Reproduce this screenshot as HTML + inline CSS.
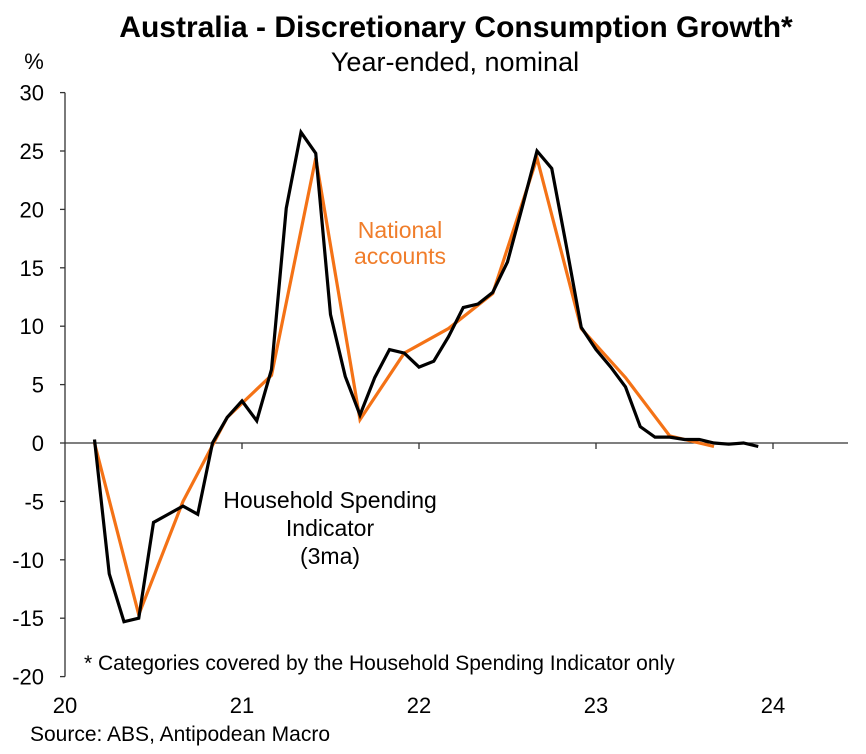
<!DOCTYPE html>
<html><head><meta charset="utf-8"><style>
body{margin:0;background:#fff;}
svg text{font-family:"Liberation Sans",Arial,sans-serif;}
</style></head><body>
<svg width="866" height="749" viewBox="0 0 866 749">
<text x="456" y="37" text-anchor="middle" font-size="30" font-weight="bold" fill="#000">Australia - Discretionary Consumption Growth*</text>
<text x="455" y="71" text-anchor="middle" font-size="27" fill="#000">Year-ended, nominal</text>
<text x="34" y="69" text-anchor="middle" font-size="22" fill="#000">%</text>
<g id="axes"></g>
<g id="series"></g>
<text x="400" y="238" text-anchor="middle" font-size="23" fill="#f07d2a">National</text>
<text x="400" y="264" text-anchor="middle" font-size="23" fill="#f07d2a">accounts</text>
<text x="330" y="508" text-anchor="middle" font-size="23" fill="#000">Household Spending</text>
<text x="330" y="536" text-anchor="middle" font-size="23" fill="#000">Indicator</text>
<text x="330" y="564" text-anchor="middle" font-size="23" fill="#000">(3ma)</text>
<text x="84" y="670" font-size="21" fill="#000">* Categories covered by the Household Spending Indicator only</text>
<text x="30" y="741" font-size="21" fill="#000">Source: ABS, Antipodean Macro</text>
</svg>
<script>
const yTicks=[30,25,20,15,10,5,0,-5,-10,-15,-20];
const xTickLabels=["20","21","22","23","24"];
const hsiMonths=[2,3,4,5,6,7,8,9,10,11,12,13,14,15,16,17,18,19,20,21,22,23,24,25,26,27,28,29,30,31,32,33,34,35,36,37,38,39,40,41,42,43,44,45,46,47];
const hsiValues=[0.3,-11.2,-15.3,-15.0,-6.8,-6.1,-5.4,-6.1,0,2.2,3.6,1.9,6.3,20.1,26.6,24.8,11.0,5.7,2.4,5.6,8.0,7.7,6.5,7.0,9.1,11.6,11.9,12.9,15.5,20.2,25.0,23.5,16.8,9.9,8.0,6.5,4.8,1.4,0.5,0.5,0.3,0.3,0,-0.1,0,-0.3];
const naMonths=[2,5,8,11,14,17,20,23,26,29,32,35,38,41,44];
const naValues=[0,-14.7,-5.0,2.2,5.8,24.4,2.0,7.7,9.8,12.8,24.4,9.8,5.6,0.6,-0.3];
const NS="http://www.w3.org/2000/svg";
const x0=65,xPerMonth=14.75,y0=443,yPer=11.68;
const X=m=>x0+m*xPerMonth;
const Y=v=>y0-v*yPer;
const axes=document.getElementById('axes'),series=document.getElementById('series');
function mk(t,a,p){const e=document.createElementNS(NS,t);for(const k in a)e.setAttribute(k,a[k]);p.appendChild(e);return e;}
const yl=mk('line',{x1:x0,y1:Y(30),x2:x0,y2:Y(-20),stroke:'#333','stroke-width':1.3},axes);


const xl=mk('line',{x1:x0,y1:Y(0),x2:848,y2:Y(0),stroke:'#333','stroke-width':1.3},axes);


yTicks.forEach(v=>{
  mk('line',{x1:x0-5,y1:Y(v),x2:x0,y2:Y(v),stroke:'#333','stroke-width':1.3},axes);
  const t=mk('text',{x:44,y:Y(v)+8,'text-anchor':'end','font-size':22,fill:'#000'},axes);
  t.textContent=v;
  
  
});
xTickLabels.forEach((s,i)=>{
  const x=X(i*12);
  if(i>0)mk('line',{x1:x,y1:Y(0),x2:x,y2:Y(0)+6,stroke:'#333','stroke-width':1.3},axes);
  const t=mk('text',{x:x,y:713,'text-anchor':'middle','font-size':22,fill:'#000'},axes);
  t.textContent=s;
  
  
});
const na=mk('polyline',{points:naMonths.map((m,i)=>X(m)+','+Y(naValues[i])).join(' '),fill:'none',stroke:'#f47216','stroke-width':3.2,'stroke-linejoin':'miter'},series);


const hs=mk('polyline',{points:hsiMonths.map((m,i)=>X(m)+','+Y(hsiValues[i])).join(' '),fill:'none',stroke:'#000','stroke-width':3.2,'stroke-linejoin':'miter'},series);


</script>
</body></html>
